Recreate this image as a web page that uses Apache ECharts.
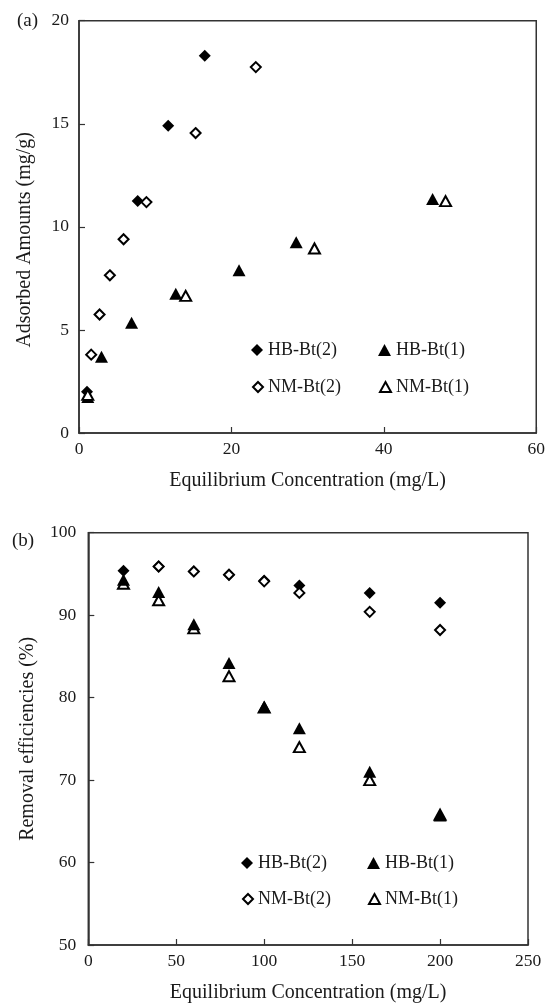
<!DOCTYPE html>
<html><head><meta charset="utf-8">
<script src="https://cdn.jsdelivr.net/npm/echarts@6/dist/echarts.min.js"></script>
<style>html,body{margin:0;padding:0;background:#fff}#c{width:548px;height:1004px}</style>
</head><body><div id="c"></div>
<script>
// ---------- data, panel (a): [equilibrium concentration mg/L, adsorbed amount mg/g]
const aHB2 = [[1.05,2.0],[7.7,11.25],[11.7,14.9],[16.5,18.3]];
const aNM2 = [[1.6,3.8],[2.7,5.75],[4.05,7.65],[5.85,9.4],[8.85,11.2],[15.3,14.55],[23.2,17.75]];
const aHB1 = [[1.15,1.75],[2.95,3.7],[6.9,5.35],[12.7,6.75],[21.0,7.9],[28.5,9.25],[46.4,11.35]];
const aNM1 = [[1.15,1.85],[14.0,6.65],[30.9,8.95],[48.1,11.25]];
// ---------- data, panel (b): removal efficiency (%) at each concentration
const bConc = [20,40,60,80,100,120,160,200];
const bHB2 = [95.4,95.9,95.3,94.9,94.2,93.6,92.7,91.5];
const bNM2 = [null,95.9,95.3,94.9,94.1,92.7,90.4,88.2];
const bHB1 = [94.3,92.8,88.9,84.2,78.9,76.3,71.0,65.7];
const bNM1 = [93.8,91.8,88.4,82.6,78.8,74.0,70.0,65.8];
// ---------- axis tick settings [min, max, interval]
const aXTicks = [0,60,20];
const aYTicks = [0,20,5];
const bXTicks = [0,250,50];
const bYTicks = [50,100,10];
const names = ['HB-Bt(2)','NM-Bt(2)','HB-Bt(1)','NM-Bt(1)'];
const panelLabels = ['(a)','(b)'];
const xTitle = 'Equilibrium Concentration (mg/L)';
const aYTitle = 'Adsorbed Amounts (mg/g)';
const bYTitle = 'Removal efficiencies (%)';

const FONT = '"Liberation Serif","Times New Roman",serif';
const TXT = '#1a1a1a';
const LINE = '#333';

const pair = (xs, ys) => xs.map((x,i) => [x, ys[i]]).filter(p => p[1] !== null);

const styles = {
  'HB-Bt(2)': {symbol:'diamond', symbolSize:12, itemStyle:{color:'#000', opacity:1}},
  'NM-Bt(2)': {symbol:'diamond', symbolSize:10, itemStyle:{color:'#fff', borderColor:'#000', borderWidth:2, opacity:1}},
  'HB-Bt(1)': {symbol:'triangle', symbolSize:[13,12], itemStyle:{color:'#000', opacity:1}},
  'NM-Bt(1)': {symbol:'triangle', symbolSize:[11,10], itemStyle:{color:'#fff', borderColor:'#000', borderWidth:2, opacity:1}}
};
function sc(name, data, idx, z){
  return Object.assign({type:'scatter', name, data, xAxisIndex:idx, yAxisIndex:idx, z, emphasis:{disabled:true}, silent:true}, styles[name]);
}

function axis(t, gridIndex, name, nameGap, extra){
  return Object.assign({
    type:'value', gridIndex, min:t[0], max:t[1], interval:t[2],
    name, nameLocation:'middle', nameGap,
    nameTextStyle:{fontFamily:FONT, fontSize:20, color:TXT},
    axisLine:{show:true, onZero:false, lineStyle:{color:LINE, width:1.5}},
    axisTick:{show:true, inside:true, length:6, lineStyle:{color:LINE, width:1.2}},
    axisLabel:{fontFamily:FONT, fontSize:17.5, color:TXT},
    splitLine:{show:false}
  }, extra);
}

function legendItem(name, left, top, open){
  return {
    data:[name], left, top, padding:0, itemGap:0, selectedMode:false,
    itemWidth: name.indexOf('(1)')>0 ? (open?11:13) : (open?10:12),
    itemHeight: name.indexOf('(1)')>0 ? (open?10:12) : (open?10:12),
    itemStyle:{opacity:1},
    textStyle:{fontFamily:FONT, fontSize:18, color:TXT, lineHeight:20}
  };
}

const legends = [];
// panel (a)
legends.push(legendItem(names[0], 251, 340, false));
legends.push(legendItem(names[2], 378, 340, false));
legends.push(legendItem(names[1], 252, 377, true));
legends.push(legendItem(names[3], 379, 377, true));
// panel (b)
legends.push(legendItem(names[0], 241, 853, false));
legends.push(legendItem(names[2], 367, 853, false));
legends.push(legendItem(names[1], 242, 889, true));
legends.push(legendItem(names[3], 368, 889, true));

const option = {
  backgroundColor:'#fff',
  animation:false,
  grid:[
    {left:79, top:20.7, width:460.5, height:412.3, show:true, borderColor:LINE, borderWidth:1.5, backgroundColor:'transparent'},
    {left:88.3, top:532.7, width:439.7, height:412.3, show:true, borderColor:LINE, borderWidth:1.5, backgroundColor:'transparent'}
  ],
  xAxis:[
    axis(aXTicks, 0, xTitle, 38, {axisLabel:{fontFamily:FONT, fontSize:17.5, color:TXT, margin:7}}),
    axis(bXTicks, 1, xTitle, 38, {axisLabel:{fontFamily:FONT, fontSize:17.5, color:TXT, margin:7}})
  ],
  yAxis:[
    axis(aYTicks, 0, aYTitle, 44, {axisLabel:{fontFamily:FONT, fontSize:17.5, color:TXT, margin:10},
      nameTextStyle:{fontFamily:FONT, fontSize:20, color:TXT, padding:[0,26,0,0]}}),
    axis(bYTicks, 1, bYTitle, 51, {axisLabel:{fontFamily:FONT, fontSize:17.5, color:TXT, margin:12}})
  ],
  legend: legends,
  graphic:[
    {type:'text', left:17, top:12, style:{text:panelLabels[0], font:'19px '+FONT, fill:TXT}},
    {type:'text', left:12, top:532, style:{text:panelLabels[1], font:'19px '+FONT, fill:TXT}}
  ],
  series:[
    sc(names[0], aHB2, 0, 2),
    sc(names[1], aNM2, 0, 3),
    sc(names[2], aHB1, 0, 4),
    sc(names[3], aNM1, 0, 5),
    sc(names[0], pair(bConc, bHB2), 1, 2),
    sc(names[1], pair(bConc, bNM2), 1, 3),
    sc(names[3], pair(bConc, bNM1), 1, 4),
    sc(names[2], pair(bConc, bHB1), 1, 5)
  ]
};
const chart = echarts.init(document.getElementById('c'), null, {renderer:'canvas'});
chart.setOption(option);
</script>
</body></html>
